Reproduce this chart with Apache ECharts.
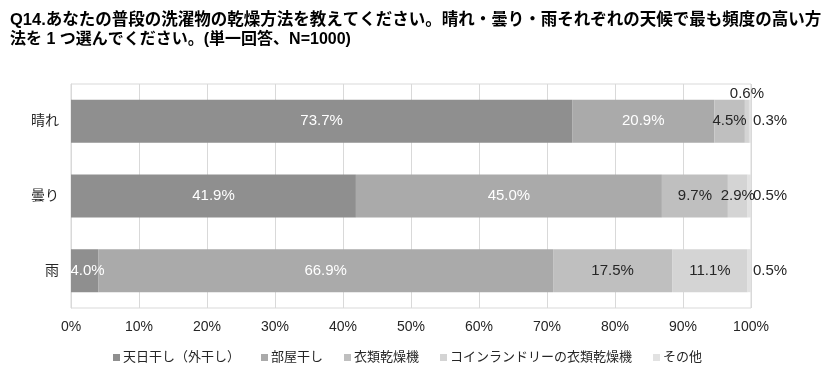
<!DOCTYPE html>
<html>
<head>
<meta charset="utf-8">
<script src="https://cdn.jsdelivr.net/npm/echarts@6/dist/echarts.min.js"></script>
<style>html,body{margin:0;padding:0;background:#fff;}#c{width:837px;height:382px;}</style>
</head>
<body>
<div id="c"></div>
<script>
var titleLine1 = 'Q14.あなたの普段の洗濯物の乾燥方法を教えてください。晴れ・曇り・雨それぞれの天候で最も頻度の高い方';
var titleLine2 = '法を 1 つ選んでください。(単一回答、N=1000)';
var categories = ['晴れ', '曇り', '雨'];
var seriesNames = ['天日干し（外干し）', '部屋干し', '衣類乾燥機', 'コインランドリーの衣類乾燥機', 'その他'];
var sunDry = [73.7, 41.9, 4.0];
var indoorDry = [20.9, 45.0, 66.9];
var dryer = [4.5, 9.7, 17.5];
var coinLaundry = [0.6, 2.9, 11.1];
var other = [0.3, 0.5, 0.5];
var xTicks = ['0%', '10%', '20%', '30%', '40%', '50%', '60%', '70%', '80%', '90%', '100%'];

var colors = ['#8f8f8f', '#aaaaaa', '#bfbfbf', '#d4d4d4', '#e2e2e2'];
var labelColors = ['#ffffff', '#ffffff', '#262626', '#262626', '#262626'];
var FONT = "'Liberation Sans', 'Noto Sans CJK JP', sans-serif";
var allData = [sunDry, indoorDry, dryer, coinLaundry, other];

var series = allData.map(function (arr, si) {
  return {
    name: seriesNames[si],
    type: 'bar',
    stack: 'total',
    barWidth: 43,
    itemStyle: { color: colors[si] },
    label: {
      show: true,
      position: si === 4 ? 'right' : 'inside',
      distance: 2,
      color: labelColors[si],
      fontSize: 15,
      fontFamily: FONT,
      formatter: function (p) { return p.value.toFixed(1) + '%'; }
    },
    data: arr.map(function (v, ci) {
      var d = { value: v };
      if (si === 0 && ci === 2) {
        d.label = { offset: [3, 0] };
      }
      if (si === 3 && ci === 0) {
        d.label = { position: 'top', distance: 0, offset: [0, 2] };
      }
      if (si === 4) {
        d.label = { position: 'right', offset: [0, 0], color: '#262626' };
      }
      return d;
    })
  };
});

var chart = echarts.init(document.getElementById('c'));
chart.setOption({
  animation: false,
  textStyle: { fontFamily: FONT },
  title: {
    text: '{a|' + titleLine1 + '}\n{b|' + titleLine2 + '}',
    left: 5,
    top: 5,
    textStyle: {
      fontSize: 16, fontWeight: 'bold', color: '#000', lineHeight: 20, fontFamily: FONT,
      rich: {
        a: { fontSize: 16.5, fontWeight: 'bold', color: '#000', lineHeight: 20, fontFamily: FONT },
        b: { fontSize: 16, fontWeight: 'bold', color: '#000', lineHeight: 20, fontFamily: FONT }
      }
    }
  },
  grid: {
    left: 71, right: 86, top: 84, bottom: 74,
    show: true, borderColor: '#d9d9d9', borderWidth: 1
  },
  legend: {
    bottom: 13,
    left: 108,
    itemWidth: 7,
    itemHeight: 7,
    itemGap: 21,
    icon: 'rect',
    textStyle: { fontSize: 13, color: '#262626', fontFamily: FONT, padding: [0, 0, 0, -2] },
    data: seriesNames
  },
  xAxis: {
    type: 'value',
    min: 0,
    max: 100,
    interval: 10,
    axisLine: { show: false },
    axisTick: { show: false },
    splitLine: { show: true, lineStyle: { color: '#d9d9d9' } },
    axisLabel: {
      fontSize: 14, color: '#262626', margin: 12, fontFamily: FONT,
      formatter: function (v) { return xTicks[Math.round(v / 10)]; }
    }
  },
  yAxis: {
    type: 'category',
    inverse: true,
    data: categories,
    axisLine: { show: true, lineStyle: { color: '#d9d9d9' } },
    axisTick: { show: false },
    axisLabel: { fontSize: 14, color: '#262626', margin: 12, fontFamily: FONT }
  },
  series: series
});
</script>
</body>
</html>
